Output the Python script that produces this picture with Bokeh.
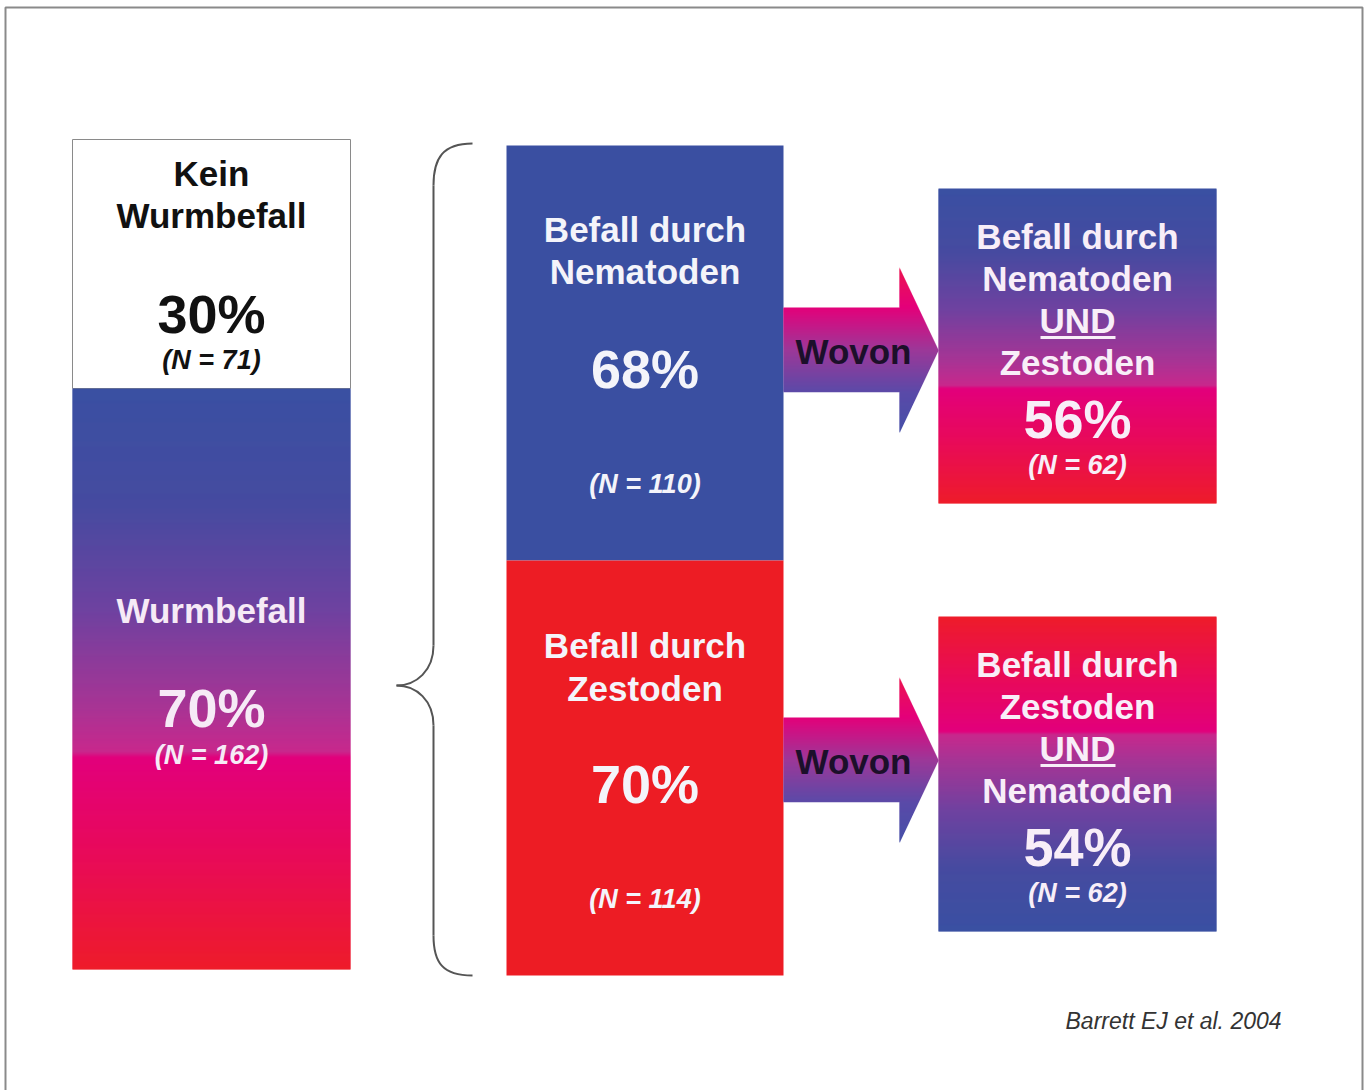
from bokeh.plotting import figure
from bokeh.models import Range1d, ColumnDataSource
from bokeh.core.properties import value
from bokeh.embed import file_html
from bokeh.resources import INLINE
import numpy as np

# ---------------- data ----------------
left_labels = ["Kein\nWurmbefall", "Wurmbefall"]
left_pct = [30, 70]
left_n = [71, 162]

mid_labels = ["Befall durch\nNematoden", "Befall durch\nZestoden"]
mid_pct = [68, 70]
mid_n = [110, 114]

right_labels = [["Befall durch", "Nematoden", "UND", "Zestoden"],
                ["Befall durch", "Zestoden", "UND", "Nematoden"]]
right_pct = [56, 54]
right_n = [62, 62]

arrow_label = "Wovon"
citation = "Barrett EJ et al. 2004"

# ---------------- styling / layout ----------------
W, H = 1366, 1090
FONT = value("Liberation Sans")
BLUE = "#3a4fa1"
RED = "#ed1c24"

p = figure(width=W, height=H, x_range=Range1d(0, W), y_range=Range1d(H, 0),
           output_backend="svg", toolbar_location=None, min_border=0,
           background_fill_color="white", border_fill_color="white")
p.axis.visible = False
p.grid.visible = False
p.outline_line_color = None


def hex2rgb(h):
    h = h.lstrip("#")
    return tuple(int(h[i:i + 2], 16) for i in (0, 2, 4))


def interp(stops, t):
    t = min(max(t, 0.0), 1.0)
    for (t0, c0), (t1, c1) in zip(stops[:-1], stops[1:]):
        if t0 <= t <= t1:
            f = 0 if t1 == t0 else (t - t0) / (t1 - t0)
            a, b = hex2rgb(c0), hex2rgb(c1)
            return "#%02x%02x%02x" % tuple(int(round(a[i] + (b[i] - a[i]) * f)) for i in range(3))
    return stops[-1][1]


def grad_box(x0, x1, y0, y1, stops):
    ys = np.arange(y0, y1, 1.0)
    tops = ys
    bots = np.minimum(ys + 1.7, y1)
    cols = [interp(stops, (y + 0.5 - y0) / (y1 - y0)) for y in ys]
    src = ColumnDataSource(dict(left=[x0] * len(ys), right=[x1] * len(ys),
                                top=list(tops), bottom=list(bots), color=cols))
    p.quad(left="left", right="right", top="top", bottom="bottom", fill_color="color",
           line_color=None, source=src)


def grad_arrow(x0, xh, xt, sy0, sy1, hy0, hy1, stops):
    tip = (hy0 + hy1) / 2.0
    half = (hy1 - hy0) / 2.0
    ys = np.arange(hy0, hy1, 1.0)
    L, R, T, B, C = [], [], [], [], []
    for y in ys:
        yc = y + 0.5
        r = xh + (xt - xh) * (1 - abs(yc - tip) / half)
        l = x0 if (sy0 <= yc <= sy1) else xh
        L.append(l); R.append(r); T.append(y); B.append(min(y + 1.7, hy1))
        C.append(interp(stops, (yc - hy0) / (hy1 - hy0)))
    src = ColumnDataSource(dict(left=L, right=R, top=T, bottom=B, color=C))
    p.quad(left="left", right="right", top="top", bottom="bottom", fill_color="color",
           line_color=None, source=src)


def txt(x, y, s, size, color="white", style="bold", align="center"):
    p.text(x=[x], y=[y], text=[s], text_font=FONT, text_font_size=f"{size}px",
           text_font_style=style, text_color=color, text_align=align,
           text_baseline="middle")


# outer frame
p.line(x=[5, 5, 1362, 1362], y=[1090, 7, 7, 1090], line_color="#8a8a8a", line_width=2)

# shared blue -> purple -> magenta -> red gradient
grad_stops = [(0.0, "#3a50a2"), (0.2, "#464ba0"), (0.38, "#6e42a0"), (0.55, "#a83494"),
              (0.625, "#c8288c"), (0.635, "#e2007c"), (0.8, "#e80a5a"), (1.0, "#ee1c2a")]
grad_rev = [(1 - t, c) for t, c in reversed(grad_stops)]

# ---------------- left column ----------------
LX0, LX1, LY0, LY1 = 72, 350, 139, 969
split = LY0 + (LY1 - LY0) * left_pct[0] / 100.0
p.quad(left=[LX0], right=[LX1], top=[LY0], bottom=[split], fill_color="white",
       line_color="#8a8a8a", line_width=1)
grad_box(LX0, LX1, split, LY1, grad_stops)

lcx = (LX0 + LX1) / 2.0
l0 = left_labels[0].split("\n")
txt(lcx, 173, l0[0], 35, "#111111")
txt(lcx, 215, l0[1], 35, "#111111")
txt(lcx, 313, f"{left_pct[0]}%", 54, "#111111")
txt(lcx, 359, f"(N = {left_n[0]})", 27, "#111111", "bold italic")

txt(lcx, 610, left_labels[1], 35, "#f6eaf6")
txt(lcx, 707, f"{left_pct[1]}%", 54, "#f6eaf6")
txt(lcx, 754, f"(N = {left_n[1]})", 27, "#f6eaf6", "bold italic")

# ---------------- brace ----------------
bc = "#555555"
p.bezier(x0=[472, 433, 396, 433], y0=[143, 645, 685, 935],
         x1=[433, 396, 433, 472], y1=[185, 685, 725, 975],
         cx0=[442, 433, 416, 433], cy0=[143, 670, 685, 962],
         cx1=[433, 416, 433, 442], cy1=[158, 685, 700, 975],
         line_color=bc, line_width=2)
p.segment(x0=[433, 433], y0=[185, 725], x1=[433, 433], y1=[645, 935],
          line_color=bc, line_width=2)

# ---------------- middle column ----------------
MX0, MX1 = 506, 783
MY = [(145, 560), (560, 975)]
mcol = [BLUE, RED]
mcx = (MX0 + MX1) / 2.0
for i in range(2):
    y0, y1 = MY[i]
    p.quad(left=[MX0], right=[MX1], top=[y0], bottom=[y1], fill_color=mcol[i], line_color=None)
    a, b = mid_labels[i].split("\n")
    off = y0 - 145
    txt(mcx, 229 + off + (0 if i == 0 else 1), a, 35, "#f4f4fa")
    txt(mcx, 271 + off + (0 if i == 0 else 2), b, 35, "#f4f4fa")
    txt(mcx, 368 + off, f"{mid_pct[i]}%", 54, "#f4f4fa")
    txt(mcx, 483 + off, f"(N = {mid_n[i]})", 27, "#f4f4fa", "bold italic")

# ---------------- arrows ----------------
arrow_stops = [(0.0, "#ec1450"), (0.24, "#e4007a"), (0.5, "#9c3898"), (0.76, "#5a4aa8"),
               (1.0, "#4650a8")]
for ay in (0, 410):
    grad_arrow(783, 899, 938, 307 + ay, 391 + ay, 267 + ay, 432 + ay, arrow_stops)
    txt(853, 351 + ay, arrow_label, 35, "#1c0f2a")

# ---------------- right column ----------------
RX0, RX1 = 938, 1216
RY = [(188, 503), (616, 931)]
rcx = (RX0 + RX1) / 2.0
for i in range(2):
    y0, y1 = RY[i]
    grad_box(RX0, RX1, y0, y1, grad_stops if i == 0 else grad_rev)
    off = y0 - 188
    for k, s in enumerate(right_labels[i]):
        txt(rcx, 236 + off + 42 * k, s, 35, "#f8eef8")
    p.segment(x0=[1040], y0=[337 + off], x1=[1115], y1=[337 + off],
              line_color="#f8eef8", line_width=3)
    txt(rcx, 418 + off, f"{right_pct[i]}%", 54, "#f8eef8")
    txt(rcx, 464 + off, f"(N = {right_n[i]})", 27, "#f8eef8", "bold italic")

# citation
txt(1065, 1020, citation, 23, "#333333", "italic", "left")

open("out.html", "w").write(file_html(p, INLINE))
